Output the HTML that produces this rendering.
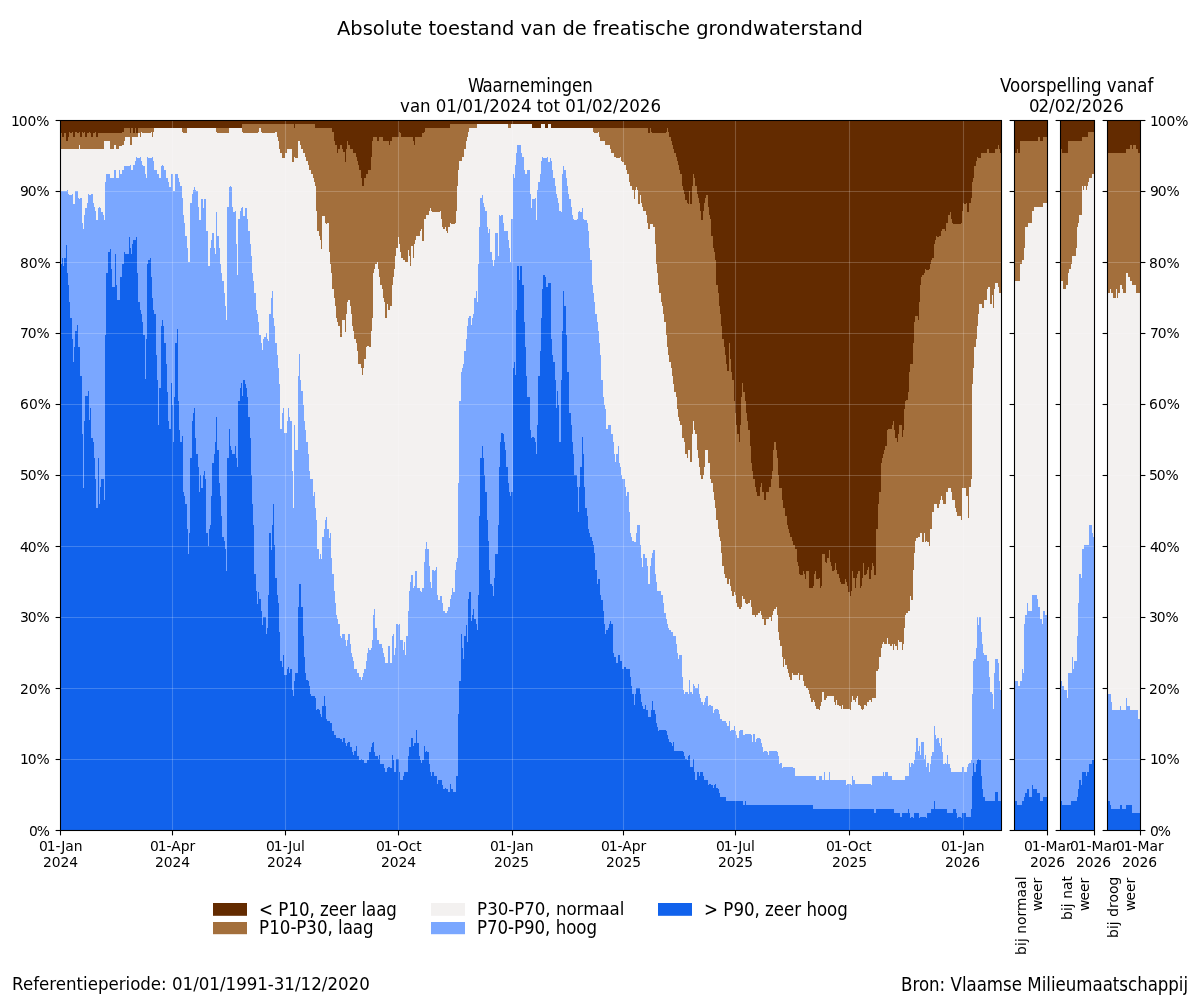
<!DOCTYPE html>
<html lang="nl"><head><meta charset="utf-8"><title>Absolute toestand van de freatische grondwaterstand</title>
<style>
html,body{margin:0;padding:0;background:#fff;}
svg{display:block;font-family:"DejaVu Sans","Liberation Sans",sans-serif;fill:#000;}
</style></head><body>
<svg width="1200" height="1000" viewBox="0 0 1200 1000">
<rect width="1200" height="1000" fill="#fff"/>
<g id="obs" shape-rendering="crispEdges"><rect x="60" y="120" width="941" height="710" fill="#632b00"/>
<path d="M60,830V133H62V137H64V133H66V141H68V137H69V132H70V133H72V132H73V137H75V132H77V133H79V132H80V137H82V132H83V133H84V132H85V137H87V133H89V132H90V133H91V137H93V133H95V132H96V137H98V133H122V132H124V128H130V133H131V128H133V133H135V128H136V133H138V128H242V124H294V128H295V124H315V128H332V132H334V141H335V145H337V153H338V149H340V145H342V149H343V152H345V162H346V149H347V141H348V145H350V149H353V153H356V157H357V161H358V165H359V170H361V178H362V186H364V178H366V174H368V170H371V157H372V141H373V137H377V141H379V137H383V141H389V145H390V141H392V137H399V132H400V133H401V137H413V141H414V145H415V137H422V133H424V132H425V128H450V124H532V128H541V124H545V128H548V124H551V128H648V133H650V128H651V132H652V133H666V132H667V128H668V132H669V137H671V141H672V145H673V149H674V153H676V157H677V161H678V165H679V170H680V174H682V186H683V190H684V194H685V200H687V203H688V204H689V191H690V204H692V186H693V174H694V178H695V186H697V194H698V198H699V203H700V211H701V220H703V211H704V203H705V198H706V195H708V207H709V215H710V219H711V236H713V248H714V252H715V260H716V285H718V293H719V306H720V314H721V326H722V339H724V347H725V355H726V364H727V371H729V343H730V359H731V372H732V380H734V401H735V413H736V425H737V434H739V442H740V425H741V397H742V383H743V392H745V401H746V413H747V421H748V430H750V446H751V463H752V471H753V479H755V487H756V492H757V496H760V487H761V483H762V492H764V500H766V492H769V487H771V479H772V471H773V450H774V442H776V450H777V458H778V475H779V488H782V500H783V508H785V516H787V525H788V529H789V533H790V537H792V541H793V545H795V549H797V562H798V566H799V574H800V575H803V571H804V574H805V579H806V571H809V588H813V586H814V574H815V571H816V579H819V578H820V588H821V586H822V554H825V562H826V563H827V558H829V550H830V562H831V566H832V571H834V570H835V563H836V570H837V574H839V578H840V582H841V584H845V579H846V582H847V586H848V592H850V596H851V591H852V571H853V578H855V588H856V578H857V574H858V571H860V588H861V586H862V578H863V563H864V575H866V574H867V570H868V567H869V579H871V570H872V563H873V566H874V575H876V529H878V504H879V492H881V463H882V458H883V454H884V450H885V446H887V430H888V429H892V425H893V421H894V430H895V438H897V442H898V434H899V425H902V437H903V430H904V409H905V401H906V400H908V392H909V372H910V364H913V343H914V322H915V316H918V320H919V302H920V285H921V277H922V275H924V273H925V269H926V270H929V269H930V264H931V260H932V258H934V244H935V240H936V236H937V237H939V236H941V231H942V229H945V231H946V223H948V215H950V212H951V219H952V223H953V224H961V223H962V211H963V203H964V204H966V203H967V212H969V203H971V198H972V182H973V178H974V166H976V161H977V157H978V158H981V153H987V149H989V153H995V149H998V145H999V149H1000V153H1001V830Z" fill="#a36f3c"/>
<path d="M60,830V149H79V145H80V149H104V141H110V149H114V145H116V149H119V146H122V145H124V141H125V137H130V145H132V137H138V133H140V137H141V132H142V133H151V132H152V137H153V132H154V128H182V132H183V133H187V128H216V132H217V133H229V128H242V132H243V133H258V132H259V128H261V132H262V133H275V132H277V137H278V141H279V149H280V153H282V158H285V153H287V149H292V162H294V157H295V158H298V141H300V145H301V149H303V153H305V157H306V161H308V165H309V170H311V174H313V178H314V182H315V186H316V211H317V231H319V236H320V240H321V249H322V216H325V223H326V224H327V223H329V252H330V264H331V273H332V289H334V298H335V306H336V318H337V322H338V326H340V337H342V320H345V332H346V314H347V302H348V300H350V306H351V314H352V326H353V331H354V339H356V343H357V351H358V364H361V368H362V375H363V368H364V359H366V347H367V346H369V347H371V331H372V318H373V273H374V269H375V264H377V262H378V269H379V277H380V285H382V289H383V298H384V302H385V318H387V304H388V310H390V306H392V285H393V277H394V269H395V256H396V248H398V237H399V244H400V252H401V258H403V260H405V262H408V250H409V256H410V266H411V246H413V258H414V244H415V240H416V236H420V231H421V229H422V241H424V219H426V215H429V211H430V208H431V211H432V212H440V211H441V219H442V227H443V229H445V227H446V231H447V233H448V227H450V223H451V224H455V223H456V211H457V186H458V170H459V161H462V157H464V149H466V141H467V137H468V132H469V128H477V124H508V128H511V124H532V128H541V124H545V128H548V124H551V128H593V132H594V133H598V132H599V137H600V141H605V145H610V149H611V153H614V157H616V158H620V157H621V161H622V162H624V165H626V170H627V174H629V182H630V186H632V190H634V199H635V190H636V187H637V190H638V204H640V195H641V203H642V207H643V211H646V215H647V223H648V229H650V224H653V227H655V244H656V264H657V273H658V285H659V293H661V302H662V306H663V314H664V322H666V335H667V347H668V355H669V362H671V368H672V376H673V384H674V392H676V397H677V409H678V417H679V421H680V425H682V438H684V442H685V454H687V458H688V450H690V462H692V434H693V421H694V430H695V434H697V450H698V458H699V467H700V475H701V479H703V475H704V467H705V450H708V463H710V479H711V483H713V492H714V500H715V508H716V520H718V529H719V537H720V541H721V553H722V566H724V574H725V578H727V584H729V579H730V586H731V591H732V596H734V592H735V595H736V603H737V607H739V609H741V607H742V596H743V599H745V603H746V604H748V603H750V600H751V607H752V615H755V617H756V615H758V613H760V611H761V615H762V619H764V625H766V619H769V617H771V621H772V615H773V611H774V609H776V607H777V615H778V632H779V640H780V646H782V657H783V667H784V659H785V665H787V669H788V673H789V677H790V680H792V673H793V675H798V673H799V680H800V675H803V681H804V686H806V688H808V690H809V694H810V698H811V702H813V700H814V702H815V706H816V709H819V710H820V706H821V702H822V692H824V700H826V698H827V696H834V702H835V705H836V700H837V705H839V706H841V709H842V705H843V709H850V710H851V702H852V696H853V700H855V702H856V698H857V696H858V705H860V706H861V709H862V710H863V709H864V705H866V706H867V702H869V700H871V702H872V698H876V671H878V669H879V657H881V648H882V644H883V642H884V644H887V638H888V644H890V646H892V644H893V650H894V644H895V646H897V650H898V640H899V642H902V650H903V644H904V628H905V615H906V613H908V611H910V596H911V600H913V570H914V553H915V541H916V538H918V537H920V533H922V542H924V533H925V542H926V541H927V542H929V546H930V529H932V512H934V504H937V508H939V504H940V500H941V496H942V500H943V504H946V492H948V488H951V492H952V500H955V508H956V512H957V516H961V520H962V488H966V496H968V518H969V487H971V479H972V384H973V368H974V347H976V339H977V326H978V314H979V304H982V308H984V300H987V289H988V287H990V304H992V295H993V308H994V289H995V283H998V287H999V293H1001V830Z" fill="#f3f1f0"/>
<path d="M60,830V191H67V190H68V194H69V195H72V194H73V204H75V191H78V198H79V199H80V198H82V223H83V229H84V215H85V208H87V203H88V194H89V195H91V194H93V203H94V207H95V211H96V220H98V208H99V207H100V208H101V212H103V215H104V220H105V182H106V174H110V178H114V170H116V178H119V170H120V174H122V170H124V166H130V165H131V170H133V165H135V161H136V157H137V158H140V157H141V161H142V165H143V166H145V174H146V178H147V157H148V158H152V157H153V161H154V170H157V174H159V178H161V166H162V165H163V166H164V170H166V178H168V182H169V187H171V174H173V191H175V174H178V178H179V182H180V186H182V198H183V215H184V223H185V236H187V248H188V262H190V203H192V194H193V190H194V187H195V190H196V191H198V207H199V220H201V199H203V208H204V199H206V231H208V266H210V248H211V240H212V233H214V248H215V254H216V212H217V236H219V248H220V264H221V273H222V281H224V293H225V306H226V320H227V207H229V187H230V186H231V187H232V207H233V212H235V211H236V244H237V275H238V219H240V211H241V208H242V207H243V216H245V208H247V219H248V231H250V244H251V256H252V273H253V281H254V293H256V310H257V314H258V322H259V335H261V343H262V350H263V339H264V337H266V333H267V339H268V341H269V314H271V298H272V291H273V318H274V326H275V343H277V355H278V368H279V384H280V429H282V413H283V408H284V433H287V421H288V408H289V417H290V421H292V471H293V508H294V425H295V450H298V376H299V354H300V380H301V391H303V405H304V421H305V430H306V442H308V454H309V471H310V479H313V496H314V492H315V508H316V520H317V549H319V559H320V554H321V559H322V537H324V529H325V520H326V517H327V529H329V538H330V533H331V558H332V574H334V591H335V603H336V615H337V619H338V624H340V636H341V638H342V634H345V640H346V646H347V640H348V634H350V644H351V653H352V657H353V661H354V669H357V673H359V677H361V680H362V677H363V673H364V669H366V661H367V653H368V648H369V650H371V648H372V640H373V615H374V609H375V628H377V640H379V644H382V648H383V653H384V657H385V663H388V646H390V663H392V636H393V634H394V655H395V648H396V624H398V625H399V624H400V640H403V650H404V642H405V655H406V636H408V611H409V591H410V582H411V575H413V588H414V586H415V571H417V588H420V591H421V592H422V588H424V562H425V549H426V542H427V549H429V566H430V582H431V588H432V570H434V571H435V570H436V567H437V595H438V600H440V596H442V603H443V611H445V613H447V611H448V607H450V599H451V595H452V588H453V592H455V570H456V562H457V558H458V483H459V401H461V372H462V368H463V364H464V351H466V339H467V326H468V318H469V316H471V325H472V318H473V314H474V298H476V291H477V302H478V264H479V227H480V198H482V195H483V203H484V207H485V211H487V227H488V233H489V229H490V252H492V260H493V266H494V260H495V233H498V256H499V215H500V216H501V215H503V223H504V231H508V240H509V248H510V262H511V219H513V174H514V178H515V165H516V153H517V145H521V153H522V157H524V170H525V174H527V170H530V194H531V208H532V199H535V198H536V220H537V190H538V182H540V174H541V161H542V157H543V158H547V157H548V162H550V158H551V161H552V170H553V178H555V186H556V194H557V198H558V203H559V211H561V212H562V174H563V166H564V170H566V178H567V186H568V194H569V199H571V207H572V215H573V219H574V220H577V219H578V212H579V211H580V212H582V208H583V219H584V220H587V223H588V231H589V248H590V260H592V285H593V293H594V302H595V314H597V322H598V331H599V343H600V355H601V380H603V397H604V405H605V409H606V429H608V425H611V434H613V442H614V454H615V462H616V454H618V446H619V463H620V467H621V475H622V479H625V487H626V496H627V492H629V512H630V533H631V537H632V541H634V542H636V533H637V525H640V545H641V558H642V567H643V554H645V558H647V566H648V584H650V566H651V558H652V553H653V550H655V574H656V582H657V591H661V595H663V603H664V613H666V619H667V624H668V628H669V630H671V632H673V636H676V644H677V653H678V659H679V655H682V677H683V690H684V694H685V692H688V694H689V680H690V692H692V694H693V684H694V686H695V688H698V684H699V694H700V698H701V702H703V705H704V702H705V698H706V696H708V706H709V705H711V706H713V713H714V710H715V709H718V710H719V714H720V719H722V721H726V723H727V726H729V721H730V731H731V730H734V726H735V731H736V735H737V738H739V731H740V730H743V735H745V734H751V735H752V742H753V734H755V742H756V739H757V738H760V739H761V743H762V747H763V752H764V751H767V752H768V755H769V751H777V752H778V756H779V764H780V763H782V768H783V767H793V768H795V776H816V780H819V776H822V780H824V772H825V780H829V772H830V780H846V785H847V784H851V785H852V776H853V780H855V784H871V785H872V776H883V772H884V776H885V772H888V776H892V780H905V776H909V763H910V767H911V763H913V764H914V760H915V752H916V738H918V751H919V746H920V755H921V742H924V759H925V755H926V767H927V763H929V772H930V764H931V756H932V752H934V726H935V735H936V739H937V738H939V743H940V746H941V738H942V752H943V764H945V763H946V764H947V755H948V764H950V768H951V772H962V767H964V772H967V767H968V764H969V763H971V760H972V694H973V661H974V659H976V648H977V617H978V625H979V617H981V632H982V644H983V653H984V655H987V661H989V677H990V692H992V694H993V709H994V673H995V659H998V663H999V681H1000V690H1001V830Z" fill="#7aa7ff"/>
<path d="M60,830V264H62V258H63V266H64V258H66V245H67V273H68V285H69V302H70V318H72V339H73V362H74V347H75V331H77V325H78V347H80V376H82V434H83V488H84V421H85V396H88V391H89V420H90V408H91V438H93V442H94V458H95V479H96V508H98V458H99V504H100V487H101V479H104V500H105V335H106V273H108V252H110V249H111V269H112V287H115V254H116V285H117V300H120V277H122V264H124V252H125V254H129V237H130V248H131V254H132V244H133V240H136V237H137V273H138V302H140V310H141V314H142V322H143V335H145V379H146V339H147V264H148V260H150V258H151V277H152V298H153V310H154V314H156V355H157V380H158V425H159V388H161V326H162V320H163V326H164V343H166V364H167V392H168V421H169V429H171V383H172V405H173V442H174V397H175V343H177V329H178V401H179V430H180V442H182V436H183V492H184V496H185V504H187V529H188V554H189V533H190V458H192V421H193V413H194V408H195V438H196V454H198V467H199V492H200V475H201V488H203V475H204V471H205V479H206V533H208V546H209V529H210V525H211V496H212V463H214V454H215V442H216V417H217V450H219V483H220V496H221V516H222V537H224V541H225V549H226V571H227V458H229V429H230V446H231V450H232V454H235V446H236V458H237V467H238V401H240V388H241V383H242V396H243V380H245V384H246V388H247V397H248V417H250V438H251V475H252V504H253V525H254V574H256V591H257V604H258V592H259V599H261V611H262V625H263V617H266V634H267V628H268V595H269V533H271V550H272V525H273V504H274V545H275V578H277V595H278V603H279V632H280V661H282V667H283V655H284V675H287V669H288V667H289V673H290V669H292V690H293V696H294V681H295V673H298V607H299V584H301V607H303V636H304V657H305V673H306V680H308V681H309V686H310V694H311V696H315V698H316V710H317V709H319V710H320V714H321V717H322V706H324V696H325V706H326V719H327V721H330V723H332V731H334V735H336V738H340V739H342V742H343V738H345V743H346V746H347V743H348V742H350V747H352V752H353V755H354V751H356V746H357V756H359V760H361V759H362V760H364V763H367V760H369V752H371V747H372V743H373V742H374V752H375V756H378V759H379V755H380V764H384V768H385V772H387V768H388V767H390V768H392V755H393V760H394V772H396V759H399V772H400V780H403V776H404V772H408V756H409V747H411V738H413V746H414V743H416V730H417V743H419V756H420V760H421V763H422V760H424V746H425V752H426V751H427V752H429V764H430V772H431V776H432V772H434V776H437V784H438V780H442V785H443V789H445V788H446V789H448V792H450V784H451V789H453V792H456V776H458V714H459V681H461V634H462V648H463V659H464V636H466V625H467V642H468V599H469V592H471V621H472V615H473V609H474V619H476V624H477V630H478V595H479V516H480V458H482V446H483V458H484V475H485V492H487V520H488V541H489V570H490V584H492V586H493V596H494V578H495V554H498V525H499V467H500V442H501V433H503V434H504V442H505V450H506V467H508V483H509V492H510V496H511V492H513V368H514V362H515V375H516V310H517V266H519V280H520V266H522V285H524V322H525V347H526V376H527V397H530V430H531V438H532V437H534V438H535V442H536V454H537V425H538V376H540V351H541V318H542V289H543V275H545V277H546V287H548V283H551V339H552V355H553V362H555V380H556V408H557V391H558V405H559V442H561V380H562V331H563V291H564V306H566V335H567V372H569V413H571V425H572V442H573V454H574V475H577V487H578V512H579V487H580V467H582V437H583V454H584V487H585V508H587V516H588V529H589V533H590V537H592V541H593V545H594V553H595V570H597V584H598V579H600V595H601V600H603V611H604V624H605V634H606V630H608V628H609V624H610V621H611V624H613V653H614V657H616V663H618V655H620V661H622V669H624V667H626V669H630V677H631V686H632V694H634V705H635V694H636V688H640V694H641V702H642V706H643V709H645V705H646V710H648V717H651V710H652V701H653V710H655V714H656V723H657V727H658V731H659V730H666V731H667V735H668V739H669V742H671V743H672V746H673V742H674V751H683V752H684V756H685V759H687V760H688V756H689V755H690V767H693V759H694V772H695V780H697V772H699V776H700V772H703V776H704V780H708V785H709V784H711V785H713V788H714V785H715V784H716V788H718V789H719V793H720V797H726V801H743V805H745V801H746V805H813V809H874V813H876V809H894V813H900V817H902V813H908V809H909V813H910V818H911V817H913V818H914V813H919V818H920V817H926V818H927V813H931V809H934V801H935V809H947V813H953V809H956V813H957V818H958V817H961V818H962V813H966V817H971V809H972V776H973V763H974V772H976V764H977V760H978V759H979V760H981V776H982V789H983V797H985V801H995V792H998V801H1001V830Z" fill="#1162ec"/></g>
<g id="fc1" shape-rendering="crispEdges"><rect x="1014" y="120" width="33" height="710" fill="#632b00"/>
<path d="M1014,830V153H1017V149H1018V153H1020V141H1038V137H1040V141H1043V137H1047V830Z" fill="#a36f3c"/>
<path d="M1014,830V281H1020V264H1022V260H1024V248H1025V227H1028V223H1032V211H1034V207H1043V203H1047V830Z" fill="#f3f1f0"/>
<path d="M1014,830V681H1018V686H1020V681H1022V669H1023V673H1024V624H1025V615H1027V603H1028V611H1032V595H1037V599H1038V607H1040V619H1042V624H1043V611H1045V615H1047V830Z" fill="#7aa7ff"/>
<path d="M1014,830V801H1017V805H1022V801H1024V797H1025V793H1027V789H1029V797H1032V785H1033V789H1037V793H1040V801H1043V797H1047V830Z" fill="#1162ec"/></g>
<g id="fc2" shape-rendering="crispEdges"><rect x="1060" y="120" width="34" height="710" fill="#632b00"/>
<path d="M1060,830V149H1062V153H1068V141H1082V137H1088V132H1094V830Z" fill="#a36f3c"/>
<path d="M1060,830V281H1063V289H1066V285H1068V273H1069V269H1071V264H1072V256H1076V248H1077V227H1078V223H1079V215H1082V186H1083V190H1084V186H1086V190H1087V186H1088V182H1089V178H1092V174H1094V830Z" fill="#f3f1f0"/>
<path d="M1060,830V681H1062V686H1064V690H1067V698H1068V673H1072V657H1073V669H1074V661H1077V636H1078V603H1079V574H1081V578H1082V549H1084V545H1089V525H1092V533H1093V537H1094V830Z" fill="#7aa7ff"/>
<path d="M1060,830V801H1062V805H1071V801H1077V797H1078V789H1079V780H1081V785H1082V772H1086V776H1087V772H1089V764H1092V760H1094V830Z" fill="#1162ec"/></g>
<g id="fc3" shape-rendering="crispEdges"><rect x="1107" y="120" width="33" height="710" fill="#632b00"/>
<path d="M1107,830V153H1126V149H1130V145H1132V149H1133V145H1136V149H1138V153H1140V830Z" fill="#a36f3c"/>
<path d="M1107,830V293H1110V289H1111V293H1113V298H1116V289H1117V298H1118V293H1120V285H1122V289H1123V293H1126V273H1128V277H1130V281H1132V285H1136V293H1140V830Z" fill="#f3f1f0"/>
<path d="M1107,830V694H1111V702H1112V710H1120V706H1121V710H1126V698H1127V706H1130V710H1138V719H1140V830Z" fill="#7aa7ff"/>
<path d="M1107,830V801H1110V805H1111V809H1120V805H1122V809H1126V805H1132V813H1140V830Z" fill="#1162ec"/></g>
<g id="grid"><path d="M60.5,759.5H1001.5" stroke="#fff" stroke-opacity="0.2" stroke-width="1.1"/>
<path d="M1014.5,759.5H1047.5" stroke="#fff" stroke-opacity="0.2" stroke-width="1.1"/>
<path d="M1060.5,759.5H1094.5" stroke="#fff" stroke-opacity="0.2" stroke-width="1.1"/>
<path d="M1107.5,759.5H1140.5" stroke="#fff" stroke-opacity="0.2" stroke-width="1.1"/>
<path d="M60.5,688.5H1001.5" stroke="#fff" stroke-opacity="0.2" stroke-width="1.1"/>
<path d="M1014.5,688.5H1047.5" stroke="#fff" stroke-opacity="0.2" stroke-width="1.1"/>
<path d="M1060.5,688.5H1094.5" stroke="#fff" stroke-opacity="0.2" stroke-width="1.1"/>
<path d="M1107.5,688.5H1140.5" stroke="#fff" stroke-opacity="0.2" stroke-width="1.1"/>
<path d="M60.5,617.5H1001.5" stroke="#fff" stroke-opacity="0.2" stroke-width="1.1"/>
<path d="M1014.5,617.5H1047.5" stroke="#fff" stroke-opacity="0.2" stroke-width="1.1"/>
<path d="M1060.5,617.5H1094.5" stroke="#fff" stroke-opacity="0.2" stroke-width="1.1"/>
<path d="M1107.5,617.5H1140.5" stroke="#fff" stroke-opacity="0.2" stroke-width="1.1"/>
<path d="M60.5,546.5H1001.5" stroke="#fff" stroke-opacity="0.2" stroke-width="1.1"/>
<path d="M1014.5,546.5H1047.5" stroke="#fff" stroke-opacity="0.2" stroke-width="1.1"/>
<path d="M1060.5,546.5H1094.5" stroke="#fff" stroke-opacity="0.2" stroke-width="1.1"/>
<path d="M1107.5,546.5H1140.5" stroke="#fff" stroke-opacity="0.2" stroke-width="1.1"/>
<path d="M60.5,475.5H1001.5" stroke="#fff" stroke-opacity="0.2" stroke-width="1.1"/>
<path d="M1014.5,475.5H1047.5" stroke="#fff" stroke-opacity="0.2" stroke-width="1.1"/>
<path d="M1060.5,475.5H1094.5" stroke="#fff" stroke-opacity="0.2" stroke-width="1.1"/>
<path d="M1107.5,475.5H1140.5" stroke="#fff" stroke-opacity="0.2" stroke-width="1.1"/>
<path d="M60.5,404.5H1001.5" stroke="#fff" stroke-opacity="0.2" stroke-width="1.1"/>
<path d="M1014.5,404.5H1047.5" stroke="#fff" stroke-opacity="0.2" stroke-width="1.1"/>
<path d="M1060.5,404.5H1094.5" stroke="#fff" stroke-opacity="0.2" stroke-width="1.1"/>
<path d="M1107.5,404.5H1140.5" stroke="#fff" stroke-opacity="0.2" stroke-width="1.1"/>
<path d="M60.5,333.5H1001.5" stroke="#fff" stroke-opacity="0.2" stroke-width="1.1"/>
<path d="M1014.5,333.5H1047.5" stroke="#fff" stroke-opacity="0.2" stroke-width="1.1"/>
<path d="M1060.5,333.5H1094.5" stroke="#fff" stroke-opacity="0.2" stroke-width="1.1"/>
<path d="M1107.5,333.5H1140.5" stroke="#fff" stroke-opacity="0.2" stroke-width="1.1"/>
<path d="M60.5,262.5H1001.5" stroke="#fff" stroke-opacity="0.2" stroke-width="1.1"/>
<path d="M1014.5,262.5H1047.5" stroke="#fff" stroke-opacity="0.2" stroke-width="1.1"/>
<path d="M1060.5,262.5H1094.5" stroke="#fff" stroke-opacity="0.2" stroke-width="1.1"/>
<path d="M1107.5,262.5H1140.5" stroke="#fff" stroke-opacity="0.2" stroke-width="1.1"/>
<path d="M60.5,191.5H1001.5" stroke="#fff" stroke-opacity="0.2" stroke-width="1.1"/>
<path d="M1014.5,191.5H1047.5" stroke="#fff" stroke-opacity="0.2" stroke-width="1.1"/>
<path d="M1060.5,191.5H1094.5" stroke="#fff" stroke-opacity="0.2" stroke-width="1.1"/>
<path d="M1107.5,191.5H1140.5" stroke="#fff" stroke-opacity="0.2" stroke-width="1.1"/>
<path d="M172.5,120.5V830.5" stroke="#fff" stroke-opacity="0.2" stroke-width="1.1"/>
<path d="M285.5,120.5V830.5" stroke="#fff" stroke-opacity="0.2" stroke-width="1.1"/>
<path d="M398.5,120.5V830.5" stroke="#fff" stroke-opacity="0.2" stroke-width="1.1"/>
<path d="M512.5,120.5V830.5" stroke="#fff" stroke-opacity="0.2" stroke-width="1.1"/>
<path d="M623.5,120.5V830.5" stroke="#fff" stroke-opacity="0.2" stroke-width="1.1"/>
<path d="M735.5,120.5V830.5" stroke="#fff" stroke-opacity="0.2" stroke-width="1.1"/>
<path d="M849.5,120.5V830.5" stroke="#fff" stroke-opacity="0.2" stroke-width="1.1"/>
<path d="M963.5,120.5V830.5" stroke="#fff" stroke-opacity="0.2" stroke-width="1.1"/></g>
<g id="axes"><path d="M55.6,830.5H60.5" stroke="#000" stroke-width="1.1"/>
<path d="M1009.6,830.5H1014.5" stroke="#000" stroke-width="1.1"/>
<path d="M1055.6,830.5H1060.5" stroke="#000" stroke-width="1.1"/>
<path d="M1102.6,830.5H1107.5" stroke="#000" stroke-width="1.1"/>
<path d="M1140.5,830.5H1145.4" stroke="#000" stroke-width="1.1"/>
<path d="M55.6,759.5H60.5" stroke="#000" stroke-width="1.1"/>
<path d="M1009.6,759.5H1014.5" stroke="#000" stroke-width="1.1"/>
<path d="M1055.6,759.5H1060.5" stroke="#000" stroke-width="1.1"/>
<path d="M1102.6,759.5H1107.5" stroke="#000" stroke-width="1.1"/>
<path d="M1140.5,759.5H1145.4" stroke="#000" stroke-width="1.1"/>
<path d="M55.6,688.5H60.5" stroke="#000" stroke-width="1.1"/>
<path d="M1009.6,688.5H1014.5" stroke="#000" stroke-width="1.1"/>
<path d="M1055.6,688.5H1060.5" stroke="#000" stroke-width="1.1"/>
<path d="M1102.6,688.5H1107.5" stroke="#000" stroke-width="1.1"/>
<path d="M1140.5,688.5H1145.4" stroke="#000" stroke-width="1.1"/>
<path d="M55.6,617.5H60.5" stroke="#000" stroke-width="1.1"/>
<path d="M1009.6,617.5H1014.5" stroke="#000" stroke-width="1.1"/>
<path d="M1055.6,617.5H1060.5" stroke="#000" stroke-width="1.1"/>
<path d="M1102.6,617.5H1107.5" stroke="#000" stroke-width="1.1"/>
<path d="M1140.5,617.5H1145.4" stroke="#000" stroke-width="1.1"/>
<path d="M55.6,546.5H60.5" stroke="#000" stroke-width="1.1"/>
<path d="M1009.6,546.5H1014.5" stroke="#000" stroke-width="1.1"/>
<path d="M1055.6,546.5H1060.5" stroke="#000" stroke-width="1.1"/>
<path d="M1102.6,546.5H1107.5" stroke="#000" stroke-width="1.1"/>
<path d="M1140.5,546.5H1145.4" stroke="#000" stroke-width="1.1"/>
<path d="M55.6,475.5H60.5" stroke="#000" stroke-width="1.1"/>
<path d="M1009.6,475.5H1014.5" stroke="#000" stroke-width="1.1"/>
<path d="M1055.6,475.5H1060.5" stroke="#000" stroke-width="1.1"/>
<path d="M1102.6,475.5H1107.5" stroke="#000" stroke-width="1.1"/>
<path d="M1140.5,475.5H1145.4" stroke="#000" stroke-width="1.1"/>
<path d="M55.6,404.5H60.5" stroke="#000" stroke-width="1.1"/>
<path d="M1009.6,404.5H1014.5" stroke="#000" stroke-width="1.1"/>
<path d="M1055.6,404.5H1060.5" stroke="#000" stroke-width="1.1"/>
<path d="M1102.6,404.5H1107.5" stroke="#000" stroke-width="1.1"/>
<path d="M1140.5,404.5H1145.4" stroke="#000" stroke-width="1.1"/>
<path d="M55.6,333.5H60.5" stroke="#000" stroke-width="1.1"/>
<path d="M1009.6,333.5H1014.5" stroke="#000" stroke-width="1.1"/>
<path d="M1055.6,333.5H1060.5" stroke="#000" stroke-width="1.1"/>
<path d="M1102.6,333.5H1107.5" stroke="#000" stroke-width="1.1"/>
<path d="M1140.5,333.5H1145.4" stroke="#000" stroke-width="1.1"/>
<path d="M55.6,262.5H60.5" stroke="#000" stroke-width="1.1"/>
<path d="M1009.6,262.5H1014.5" stroke="#000" stroke-width="1.1"/>
<path d="M1055.6,262.5H1060.5" stroke="#000" stroke-width="1.1"/>
<path d="M1102.6,262.5H1107.5" stroke="#000" stroke-width="1.1"/>
<path d="M1140.5,262.5H1145.4" stroke="#000" stroke-width="1.1"/>
<path d="M55.6,191.5H60.5" stroke="#000" stroke-width="1.1"/>
<path d="M1009.6,191.5H1014.5" stroke="#000" stroke-width="1.1"/>
<path d="M1055.6,191.5H1060.5" stroke="#000" stroke-width="1.1"/>
<path d="M1102.6,191.5H1107.5" stroke="#000" stroke-width="1.1"/>
<path d="M1140.5,191.5H1145.4" stroke="#000" stroke-width="1.1"/>
<path d="M55.6,120.5H60.5" stroke="#000" stroke-width="1.1"/>
<path d="M1009.6,120.5H1014.5" stroke="#000" stroke-width="1.1"/>
<path d="M1055.6,120.5H1060.5" stroke="#000" stroke-width="1.1"/>
<path d="M1102.6,120.5H1107.5" stroke="#000" stroke-width="1.1"/>
<path d="M1140.5,120.5H1145.4" stroke="#000" stroke-width="1.1"/>
<path d="M60.5,830.5V835.4" stroke="#000" stroke-width="1.1"/>
<path d="M172.5,830.5V835.4" stroke="#000" stroke-width="1.1"/>
<path d="M285.5,830.5V835.4" stroke="#000" stroke-width="1.1"/>
<path d="M398.5,830.5V835.4" stroke="#000" stroke-width="1.1"/>
<path d="M512.5,830.5V835.4" stroke="#000" stroke-width="1.1"/>
<path d="M623.5,830.5V835.4" stroke="#000" stroke-width="1.1"/>
<path d="M735.5,830.5V835.4" stroke="#000" stroke-width="1.1"/>
<path d="M849.5,830.5V835.4" stroke="#000" stroke-width="1.1"/>
<path d="M963.5,830.5V835.4" stroke="#000" stroke-width="1.1"/>
<path d="M1047.5,830.5V835.4" stroke="#000" stroke-width="1.1"/>
<path d="M1094.5,830.5V835.4" stroke="#000" stroke-width="1.1"/>
<path d="M1140.5,830.5V835.4" stroke="#000" stroke-width="1.1"/>
<rect x="60.5" y="120.5" width="941.0" height="710.0" stroke="#000" stroke-width="1.1" fill="none"/>
<rect x="1014.5" y="120.5" width="33.0" height="710.0" stroke="#000" stroke-width="1.1" fill="none"/>
<rect x="1060.5" y="120.5" width="34.0" height="710.0" stroke="#000" stroke-width="1.1" fill="none"/>
<rect x="1107.5" y="120.5" width="33.0" height="710.0" stroke="#000" stroke-width="1.1" fill="none"/></g>
<g id="legend"><rect x="213" y="903" width="34" height="12.8" fill="#632b00"/>
<rect x="213" y="922" width="34" height="12.2" fill="#a36f3c"/>
<rect x="431" y="903" width="34" height="12.8" fill="#f3f1f0"/>
<rect x="431" y="922" width="34" height="12.2" fill="#7aa7ff"/>
<rect x="658" y="903" width="34" height="12.8" fill="#1162ec"/></g>
<g id="labels"><text transform="translate(37.89,850.71) scale(1,1.048)" x="1 8.75 17.62 23.25 27.25 35.88" y="0" font-size="13.89">01-Jan</text>
<text transform="translate(42.98,866.51) scale(1,0.982)" x="0 8.75 17.5 26.25" y="0" font-size="13.89">2024</text>
<text transform="translate(148.98,850.52) scale(1,0.981)" x="1 8.75 17.62 22.25 31.75 40.62" y="0" font-size="13.89">01-Apr</text>
<text transform="translate(154.98,866.51) scale(1,0.982)" x="0 8.75 17.5 26.25" y="0" font-size="13.89">2024</text>
<text transform="translate(265.07,850.70) scale(1,1.031)" x="1 8.75 17.62 23.25 27.25 36" y="0" font-size="13.89">01-Jul</text>
<text transform="translate(266.98,866.51) scale(1,0.982)" x="0 8.75 17.5 26.25" y="0" font-size="13.89">2024</text>
<text transform="translate(374.90,850.74) scale(1,0.954)" x="1 8.75 17.62 22.88 33.75 41.38" y="0" font-size="13.89">01-Oct</text>
<text transform="translate(380.98,866.51) scale(1,0.982)" x="0 8.75 17.5 26.25" y="0" font-size="13.89">2024</text>
<text transform="translate(488.89,850.71) scale(1,1.048)" x="1 8.75 17.62 23.25 27.25 35.88" y="0" font-size="13.89">01-Jan</text>
<text transform="translate(493.92,866.55) scale(1,0.982)" x="0 8.75 17.5 26.25" y="0" font-size="13.89">2025</text>
<text transform="translate(599.98,850.52) scale(1,0.981)" x="1 8.75 17.62 22.25 31.75 40.62" y="0" font-size="13.89">01-Apr</text>
<text transform="translate(605.92,866.55) scale(1,0.982)" x="0 8.75 17.5 26.25" y="0" font-size="13.89">2025</text>
<text transform="translate(715.07,850.70) scale(1,1.031)" x="1 8.75 17.62 23.25 27.25 36" y="0" font-size="13.89">01-Jul</text>
<text transform="translate(717.92,866.55) scale(1,0.982)" x="0 8.75 17.5 26.25" y="0" font-size="13.89">2025</text>
<text transform="translate(824.90,850.74) scale(1,0.954)" x="1 8.75 17.62 22.88 33.75 41.38" y="0" font-size="13.89">01-Oct</text>
<text transform="translate(831.92,866.55) scale(1,0.982)" x="0 8.75 17.5 26.25" y="0" font-size="13.89">2025</text>
<text transform="translate(939.89,850.71) scale(1,1.048)" x="1 8.75 17.62 23.25 27.25 35.88" y="0" font-size="13.89">01-Jan</text>
<text transform="translate(944.96,866.56) scale(1,0.950)" x="0 8.75 17.5 26.25" y="0" font-size="13.89">2026</text>
<text transform="translate(28.05,835.55) scale(1,1.026)" x="1 8.75" y="0" font-size="13.89">0%</text>
<text transform="translate(18.88,763.52)" x="1 8.88 17.62" y="0" font-size="13.89">10%</text>
<text transform="translate(19.98,693.51) scale(1,0.982)" x="0 8.75 17.5" y="0" font-size="13.89">20%</text>
<text transform="translate(19.08,621.53) scale(1,0.965)" x="1 8.75 17.5" y="0" font-size="13.89">30%</text>
<text transform="translate(18.96,551.53) scale(1,0.986)" x="1 8.75 17.5" y="0" font-size="13.89">40%</text>
<text transform="translate(18.99,479.56) scale(1,0.964)" x="1 8.75 17.5" y="0" font-size="13.89">50%</text>
<text transform="translate(20.07,408.57) scale(1,0.965)" x="0 8.88 17.62" y="0" font-size="13.89">60%</text>
<text transform="translate(18.93,337.56) scale(1,0.982)" x="1 8.75 17.5" y="0" font-size="13.89">70%</text>
<text transform="translate(19.79,267.59) scale(1,1.052)" x="0.25 8.88 17.62" y="0" font-size="13.89">80%</text>
<text transform="translate(18.89,195.52) scale(1,1.040)" x="1 8.88 17.62" y="0" font-size="13.89">90%</text>
<text transform="translate(9.91,125.54)" x="1 8.88 17.62 26.38" y="0" font-size="13.89">100%</text>
<text transform="translate(466.93,91.60) scale(1,1.162)" x="1 15.5 25.62 35.75 42.38 52.88 63.12 79.38 84 94.5 105 115.25" y="0" font-size="16.67">Waarnemingen</text>
<text transform="translate(400.09,111.54) scale(1,1.033)" x="0 9.88 20 30.5 35.75 46.25 56.88 62.5 73 83.62 89.25 99.88 110.38 121 131.5 136.75 143.25 153.38 159.88 165.12 175.62 186.25 191.88 202.38 213 218.62 229.25 239.75 250.38" y="0" font-size="16.67">van 01/01/2024 tot 01/02/2026</text>
<text transform="translate(1025.52,954.87) rotate(-90) scale(1,1.054)" x="-0.25 8.88 12.75 16.75 21.12 29.88 38.38 43.88 57.38 66 74.62" y="0" font-size="13.89">bij normaal</text>
<text transform="translate(1041.51,911.92) rotate(-90) scale(1,0.950)" x="1 11.38 19.88 28.38" y="0" font-size="13.89">weer</text>
<text transform="translate(1022.91,850.54) scale(1,1.040)" x="1 8.75 17.62 22.5 34.5 43.12" y="0" font-size="13.89">01-Mar</text>
<text transform="translate(1029.96,866.56) scale(1,0.950)" x="0 8.75 17.5 26.25" y="0" font-size="13.89">2026</text>
<text transform="translate(1071.53,919.90) rotate(-90) scale(1,0.950)" x="0 8.88 12.75 16.75 21.12 29.88 38.5" y="0" font-size="13.89">bij nat</text>
<text transform="translate(1088.51,911.92) rotate(-90) scale(1,0.950)" x="1 11.38 19.88 28.38" y="0" font-size="13.89">weer</text>
<text transform="translate(1068.91,850.54) scale(1,1.040)" x="1 8.75 17.62 22.5 34.5 43.12" y="0" font-size="13.89">01-Mar</text>
<text transform="translate(1075.96,866.56) scale(1,0.950)" x="0 8.75 17.5 26.25" y="0" font-size="13.89">2026</text>
<text transform="translate(999.93,91.66) scale(1,1.180)" x="0 10.12 20.25 30.38 37.25 46 56.5 66.75 71.38 76 80.62 91.12 101.62 106.88 116.75 126.88 137.38 147.5" y="0" font-size="16.67">Voorspelling vanaf</text>
<text transform="translate(1027.90,111.54) scale(1,1.074)" x="1 10.5 21.12 26.75 37.25 47.88 53.5 64.12 74.62 85.25" y="0" font-size="16.67">02/02/2026</text>
<text transform="translate(1117.51,937.98) rotate(-90) scale(1,0.953)" x="0 8.88 12.75 16.75 21.12 30 35.5 44 52.5" y="0" font-size="13.89">bij droog</text>
<text transform="translate(1134.51,911.92) rotate(-90) scale(1,0.950)" x="1 11.38 19.88 28.38" y="0" font-size="13.89">weer</text>
<text transform="translate(1114.91,850.54) scale(1,1.020)" x="1 8.75 17.62 22.5 34.5 43.12" y="0" font-size="13.89">01-Mar</text>
<text transform="translate(1121.96,866.56) scale(1,0.950)" x="0 8.75 17.5 26.25" y="0" font-size="13.89">2026</text>
<text transform="translate(1149.05,835.55) scale(1,1.026)" x="1 8.75" y="0" font-size="13.89">0%</text>
<text transform="translate(1148.88,763.52)" x="1 8.88 17.62" y="0" font-size="13.89">10%</text>
<text transform="translate(1148.98,693.51) scale(1,0.982)" x="0 8.75 17.5" y="0" font-size="13.89">20%</text>
<text transform="translate(1148.08,621.53) scale(1,0.965)" x="1 8.75 17.5" y="0" font-size="13.89">30%</text>
<text transform="translate(1148.96,551.53) scale(1,0.986)" x="1 8.75 17.5" y="0" font-size="13.89">40%</text>
<text transform="translate(1147.99,479.56) scale(1,0.964)" x="1 8.75 17.5" y="0" font-size="13.89">50%</text>
<text transform="translate(1149.07,408.57) scale(1,0.965)" x="0 8.88 17.62" y="0" font-size="13.89">60%</text>
<text transform="translate(1148.93,337.56) scale(1,0.982)" x="1 8.75 17.5" y="0" font-size="13.89">70%</text>
<text transform="translate(1148.79,267.59) scale(1,1.052)" x="0.25 8.88 17.62" y="0" font-size="13.89">80%</text>
<text transform="translate(1148.89,195.52) scale(1,1.040)" x="1 8.88 17.62" y="0" font-size="13.89">90%</text>
<text transform="translate(1148.91,125.54)" x="1 8.88 17.62 26.38" y="0" font-size="13.89">100%</text>
<text transform="translate(336.99,34.51)" x="0 13.38 25.75 35.88 47.88 53.38 65.62 73.25 85.25 91.5 99.12 111.12 123.12 133.25 140.88 152.75 165 177.38 183.62 195.12 207 219.25 225.5 237.88 249.88 256.12 263.12 270.88 282.88 294.75 302.38 307.88 318 328.75 341 353 359.25 371.62 379.38 391.38 403.62 416 432 443.88 451.5 463.5 471.62 481.75 489.38 501.25 513.5" y="0" font-size="19.44">Absolute toestand van de freatische grondwaterstand</text>
<text transform="translate(12.07,989.52) scale(1,1.042)" x="0 10.88 21.12 27 37.25 43.75 54 64.5 71 75.62 85.88 96.38 106.62 113.5 118.12 128.25 138.75 149 154.75 160 170.5 181.12 186.75 197.25 207.88 213.5 224.12 234.62 245.12 255.75 261.62 272.25 282.88 288.5 299.12 309.75 315.38 326 336.5 347.12" y="0" font-size="16.67">Referentieperiode: 01/01/1991-31/12/2020</text>
<text transform="translate(901.05,990.62) scale(1,1.147)" x="0 11.38 17.88 28 38.5 44.25 49.5 60.88 65.5 75.62 85.75 102 110.75 121 126.25 140.62 145.25 149.88 154.5 164.75 175.25 191.5 201.62 211.75 218.25 227 236.12 246.62 256.75 267.25 277.75 282.38" y="0" font-size="16.67">Bron: Vlaamse Milieumaatschappij</text>
<text transform="translate(258.89,915.60) scale(1,1.139)" x="0 14 19.25 29.38 40 50.5 55.88 61.12 69.88 80.12 90.38 97.25 102.5 107.12 117.25 127.38" y="0" font-size="16.67">&lt; P10, zeer laag</text>
<text transform="translate(259.13,933.66) scale(1,1.117)" x="-0.25 10.12 20.75 31.25 37.12 47.25 57.88 68.38 73.75 79 83.62 93.75 103.88" y="0" font-size="16.67">P10-P30, laag</text>
<text transform="translate(477.10,914.51) scale(1,1.100)" x="0 10.12 20.75 31.25 37.12 47.25 57.75 68.25 73.62 78.88 89.38 99.5 106.12 122.38 132.5 142.62" y="0" font-size="16.67">P30-P70, normaal</text>
<text transform="translate(476.90,933.60) scale(1,1.112)" x="0 10.12 20.62 31.12 37 47.12 57.62 68.12 73.5 78.75 89.25 99.38 109.5" y="0" font-size="16.67">P70-P90, hoog</text>
<text transform="translate(704.05,915.56) scale(1,1.139)" x="0 14 19.25 29.38 39.88 50.38 55.75 61 69.75 80 90.25 97.12 102.38 112.88 123 133.12" y="0" font-size="16.67">&gt; P90, zeer hoog</text></g>
</svg>
</body></html>
